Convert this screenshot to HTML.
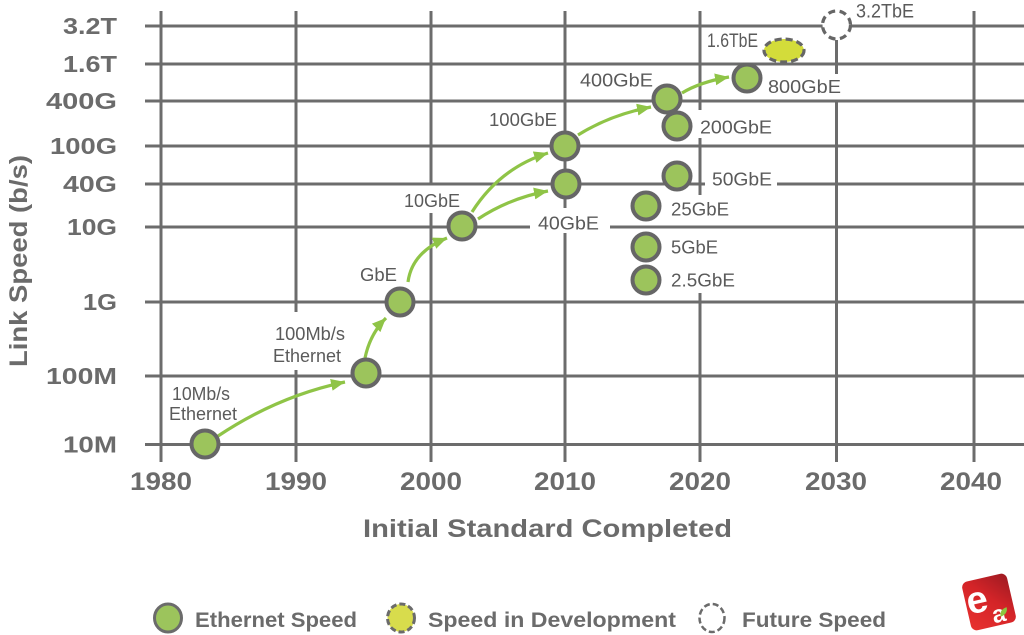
<!DOCTYPE html>
<html>
<head>
<meta charset="utf-8">
<style>
  html, body { margin:0; padding:0; background:#ffffff; }
  body { width:1024px; height:635px; overflow:hidden; }
  svg { display:block; }
  .grid { stroke:#6c6c6c; stroke-width:3; fill:none; }
  .arr { stroke:#8fc447; stroke-width:3.2; fill:none; }
  .dot { fill:#9cc45c; stroke:#666666; stroke-width:4; }
  .lbl { font-family:"Liberation Sans", sans-serif; font-size:18px; fill:#5a5a5a; }
  .ytk { font-family:"Liberation Sans", sans-serif; font-size:23px; font-weight:bold; fill:#6b6b6b; }
  .xtk { font-family:"Liberation Sans", sans-serif; font-size:25px; font-weight:bold; fill:#6b6b6b; }
  .ttl { font-family:"Liberation Sans", sans-serif; font-size:25px; font-weight:bold; fill:#6b6b6b; }
  .leg { font-family:"Liberation Sans", sans-serif; font-size:21px; font-weight:bold; fill:#6b6b6b; }
</style>
</head>
<body>
<svg width="1024" height="635" viewBox="0 0 1024 635" xmlns="http://www.w3.org/2000/svg">
  <defs>
    <marker id="ah" markerUnits="userSpaceOnUse" markerWidth="15" markerHeight="12" refX="14" refY="6" orient="auto">
      <path d="M0,0 L14,6 L0,12 Z" fill="#8fc447"/>
    </marker>
    <linearGradient id="lg" x1="0" y1="1" x2="1" y2="0">
      <stop offset="0" stop-color="#e8312f"/>
      <stop offset="0.55" stop-color="#d42428"/>
      <stop offset="1" stop-color="#9c1a22"/>
    </linearGradient>
  </defs>

  <!-- horizontal grid lines -->
  <line class="grid" x1="145" y1="26" x2="1024" y2="26"/>
  <line class="grid" x1="145" y1="64" x2="1024" y2="64"/>
  <line class="grid" x1="145" y1="101" x2="1024" y2="101"/>
  <line class="grid" x1="145" y1="146" x2="1024" y2="146"/>
  <line class="grid" x1="145" y1="184" x2="705" y2="184"/>
  <line class="grid" x1="777" y1="184" x2="1024" y2="184"/>
  <line class="grid" x1="145" y1="227" x2="530" y2="227"/>
  <line class="grid" x1="610" y1="227" x2="1024" y2="227"/>
  <line class="grid" x1="145" y1="302" x2="1024" y2="302"/>
  <line class="grid" x1="145" y1="376" x2="1024" y2="376"/>
  <line class="grid" x1="145" y1="444.5" x2="1024" y2="444.5"/>

  <!-- vertical grid lines -->
  <line class="grid" x1="161" y1="11" x2="161" y2="462"/>
  <line class="grid" x1="296" y1="11" x2="296" y2="312"/>
  <line class="grid" x1="296" y1="370" x2="296" y2="462"/>
  <line class="grid" x1="431" y1="11" x2="431" y2="183"/>
  <line class="grid" x1="431" y1="213" x2="431" y2="462"/>
  <line class="grid" x1="565" y1="11" x2="565" y2="208"/>
  <line class="grid" x1="565" y1="233" x2="565" y2="462"/>
  <line class="grid" x1="700" y1="11" x2="700" y2="110"/>
  <line class="grid" x1="700" y1="138" x2="700" y2="195"/>
  <line class="grid" x1="700" y1="293" x2="700" y2="462"/>
  <line class="grid" x1="836.5" y1="40" x2="836.5" y2="74"/>
  <line class="grid" x1="836.5" y1="100" x2="836.5" y2="462"/>
  <line class="grid" x1="974" y1="11" x2="974" y2="462"/>

  <!-- arrows -->
  <path class="arr" d="M218,436 Q278,396 345,382" marker-end="url(#ah)"/>
  <path class="arr" d="M365,358 Q370,334 386,318" marker-end="url(#ah)"/>
  <path class="arr" d="M408,282 Q412,252 447,238" marker-end="url(#ah)"/>
  <path class="arr" d="M472,212 Q500,168 548,153" marker-end="url(#ah)"/>
  <path class="arr" d="M478,219 Q510,198 548,191" marker-end="url(#ah)"/>
  <path class="arr" d="M578,135 Q610,115 651,107" marker-end="url(#ah)"/>
  <path class="arr" d="M682,93 Q700,82 729,77" marker-end="url(#ah)"/>

  <!-- data circles -->
  <circle class="dot" cx="205" cy="444" r="13.5"/>
  <circle class="dot" cx="366" cy="373" r="13.5"/>
  <circle class="dot" cx="400" cy="302" r="13.5"/>
  <circle class="dot" cx="462" cy="226" r="13.5"/>
  <circle class="dot" cx="566" cy="184" r="13.5"/>
  <circle class="dot" cx="565" cy="146" r="13.5"/>
  <circle class="dot" cx="677" cy="126" r="13.5"/>
  <circle class="dot" cx="667" cy="99" r="13.5"/>
  <circle class="dot" cx="747" cy="78" r="13.5"/>
  <circle class="dot" cx="677" cy="176" r="13.5"/>
  <circle class="dot" cx="646" cy="206" r="13.5"/>
  <circle class="dot" cx="646" cy="247" r="13.5"/>
  <circle class="dot" cx="646" cy="280" r="13.5"/>
  <ellipse cx="784" cy="50.5" rx="20" ry="11.5" fill="#d3dc3a" stroke="#666666" stroke-width="3.2" stroke-dasharray="7,4"/>
  <circle cx="836.5" cy="25" r="14" fill="#ffffff" stroke="#666666" stroke-width="3.2" stroke-dasharray="7,4.5"/>

  <!-- data labels -->
  <text class="lbl" x="172" y="400" textLength="58" lengthAdjust="spacingAndGlyphs">10Mb/s</text>
  <text class="lbl" x="169" y="420" textLength="68" lengthAdjust="spacingAndGlyphs">Ethernet</text>
  <text class="lbl" x="275" y="340" textLength="70" lengthAdjust="spacingAndGlyphs">100Mb/s</text>
  <text class="lbl" x="273" y="362" textLength="68" lengthAdjust="spacingAndGlyphs">Ethernet</text>
  <text class="lbl" x="360" y="281" textLength="37" lengthAdjust="spacingAndGlyphs">GbE</text>
  <text class="lbl" x="404" y="207" textLength="56" lengthAdjust="spacingAndGlyphs">10GbE</text>
  <text class="lbl" x="489" y="126" textLength="68" lengthAdjust="spacingAndGlyphs">100GbE</text>
  <text class="lbl" x="538" y="229.5" textLength="61" lengthAdjust="spacingAndGlyphs">40GbE</text>
  <text class="lbl" x="580" y="86.5" textLength="73" lengthAdjust="spacingAndGlyphs">400GbE</text>
  <text class="lbl" x="700" y="133.5" textLength="72" lengthAdjust="spacingAndGlyphs">200GbE</text>
  <text class="lbl" x="768" y="93" textLength="73" lengthAdjust="spacingAndGlyphs">800GbE</text>
  <text class="lbl" x="707" y="47" textLength="51" lengthAdjust="spacingAndGlyphs" style="font-size:19px">1.6TbE</text>
  <text class="lbl" x="856" y="17.5" textLength="58" lengthAdjust="spacingAndGlyphs" style="font-size:19px">3.2TbE</text>
  <text class="lbl" x="712" y="185.5" textLength="60" lengthAdjust="spacingAndGlyphs">50GbE</text>
  <text class="lbl" x="671" y="215.5" textLength="58" lengthAdjust="spacingAndGlyphs">25GbE</text>
  <text class="lbl" x="671" y="253.5" textLength="47" lengthAdjust="spacingAndGlyphs">5GbE</text>
  <text class="lbl" x="671" y="286.5" textLength="64" lengthAdjust="spacingAndGlyphs">2.5GbE</text>

  <!-- y tick labels -->
  <text class="ytk" x="63" y="34" textLength="54" lengthAdjust="spacingAndGlyphs">3.2T</text>
  <text class="ytk" x="63" y="72" textLength="54" lengthAdjust="spacingAndGlyphs">1.6T</text>
  <text class="ytk" x="46" y="109" textLength="71" lengthAdjust="spacingAndGlyphs">400G</text>
  <text class="ytk" x="50" y="154" textLength="67" lengthAdjust="spacingAndGlyphs">100G</text>
  <text class="ytk" x="63" y="192" textLength="54" lengthAdjust="spacingAndGlyphs">40G</text>
  <text class="ytk" x="67" y="235" textLength="50" lengthAdjust="spacingAndGlyphs">10G</text>
  <text class="ytk" x="83" y="310" textLength="34" lengthAdjust="spacingAndGlyphs">1G</text>
  <text class="ytk" x="46" y="384" textLength="71" lengthAdjust="spacingAndGlyphs">100M</text>
  <text class="ytk" x="63" y="452.5" textLength="54" lengthAdjust="spacingAndGlyphs">10M</text>

  <!-- x tick labels -->
  <text class="xtk" x="130" y="490" textLength="62" lengthAdjust="spacingAndGlyphs">1980</text>
  <text class="xtk" x="265" y="490" textLength="62" lengthAdjust="spacingAndGlyphs">1990</text>
  <text class="xtk" x="400" y="490" textLength="62" lengthAdjust="spacingAndGlyphs">2000</text>
  <text class="xtk" x="534" y="490" textLength="62" lengthAdjust="spacingAndGlyphs">2010</text>
  <text class="xtk" x="669" y="490" textLength="62" lengthAdjust="spacingAndGlyphs">2020</text>
  <text class="xtk" x="805" y="490" textLength="62" lengthAdjust="spacingAndGlyphs">2030</text>
  <text class="xtk" x="940" y="490" textLength="62" lengthAdjust="spacingAndGlyphs">2040</text>

  <!-- axis titles -->
  <text class="ttl" x="363" y="537" textLength="369" lengthAdjust="spacingAndGlyphs">Initial Standard Completed</text>
  <text class="ttl" transform="translate(27,367) rotate(-90)" x="0" y="0" textLength="212" lengthAdjust="spacingAndGlyphs">Link Speed (b/s)</text>

  <!-- legend -->
  <ellipse cx="168" cy="618" rx="13.5" ry="14" fill="#9cc45c" stroke="#6b6b6b" stroke-width="3"/>
  <text class="leg" x="195" y="627" textLength="162" lengthAdjust="spacingAndGlyphs">Ethernet Speed</text>
  <ellipse cx="401" cy="618" rx="13.5" ry="14" fill="#d8dc4c" stroke="#6b6b6b" stroke-width="3" stroke-dasharray="6,3"/>
  <text class="leg" x="428" y="627" textLength="248" lengthAdjust="spacingAndGlyphs">Speed in Development</text>
  <ellipse cx="712" cy="618" rx="12.5" ry="14" fill="#ffffff" stroke="#6b6b6b" stroke-width="2.5" stroke-dasharray="6,3"/>
  <text class="leg" x="742" y="627" textLength="144" lengthAdjust="spacingAndGlyphs">Future Speed</text>

  <!-- logo -->
  <g transform="translate(989,602) rotate(-13)">
    <rect x="-23" y="-25" width="46" height="50" rx="6" ry="6" fill="url(#lg)"/>
    <text x="-22" y="8" font-family="Liberation Sans, sans-serif" font-size="38" font-weight="bold" fill="#ffffff">e</text>
    <text x="0" y="22" font-family="Liberation Sans, sans-serif" font-size="24" font-weight="bold" fill="#ffffff">a</text>
    <path d="M8,17 Q8,10 16,9 Q16,16 8,17 Z" fill="#8cc63f"/>
  </g>
</svg>
</body>
</html>
